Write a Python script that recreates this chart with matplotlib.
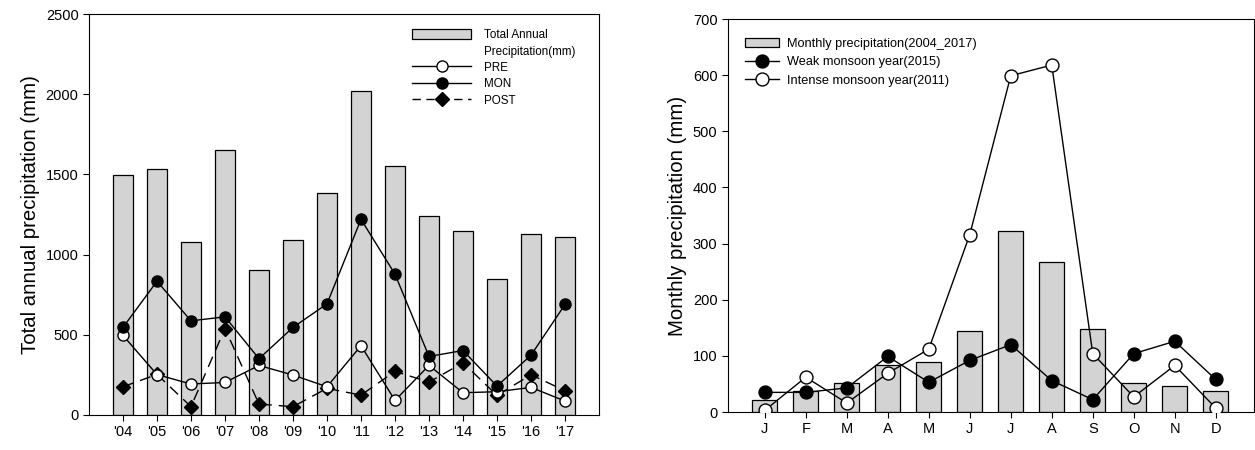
import numpy as np
import matplotlib.pyplot as plt
from matplotlib.lines import Line2D
from matplotlib.patches import Patch

plt.rcParams['font.family'] = ['Liberation Sans', 'DejaVu Sans']

# годовые данные
years = ["'04", "'05", "'06", "'07", "'08", "'09", "'10", "'11", "'12", "'13", "'14", "'15", "'16", "'17"]
total_annual = [1498, 1531, 1079, 1653, 902, 1093, 1382, 2019, 1550, 1239, 1145, 846, 1131, 1112]
pre = [496, 252, 193, 203, 309, 249, 176, 432, 91, 309, 139, 145, 172, 87]
mon = [546, 834, 587, 612, 351, 546, 693, 1220, 878, 365, 402, 180, 373, 689]
post = [176, 253, 52, 539, 68, 52, 166, 124, 272, 205, 326, 122, 251, 151]

# месячные данные
months = ['J', 'F', 'M', 'A', 'M', 'J', 'J', 'A', 'S', 'O', 'N', 'D']
monthly_mean = [21, 37, 52, 83, 89, 144, 322, 267, 147, 52, 47, 37]
weak_2015 = [35, 35, 43, 99, 53, 92, 120, 56, 22, 104, 126, 58]
intense_2011 = [3, 62, 16, 69, 112, 316, 599, 618, 104, 27, 83, 7]

fig = plt.figure(figsize=(12.55, 4.5), dpi=100)
bar_color = '#d3d3d3'

# левый график
ax1 = fig.add_axes([0.0709, 0.0778, 0.4064, 0.891])
x1 = np.arange(len(years))
ax1.bar(x1, total_annual, width=0.6, color=bar_color, edgecolor='black', linewidth=0.9, zorder=1)
ax1.plot(x1, pre, '-o', color='black', mfc='white', mec='black', ms=8, lw=1, zorder=3)
ax1.plot(x1, mon, '-o', color='black', mfc='black', ms=8, lw=1, zorder=4)
ax1.plot(x1, post, '--D', color='black', mfc='black', ms=7, lw=1, dashes=(8, 5), zorder=2)
ax1.set_xlim(-1, 14)
ax1.set_ylim(0, 2500)
ax1.set_xticks(x1)
ax1.set_xticklabels(years)
ax1.set_yticks(range(0, 2501, 500))
ax1.tick_params(labelsize=10.5, direction='out', length=4)
ax1.set_ylabel('Total annual precipitation (mm)', fontsize=14.7)

# вторая строка подписи столбцов - пустой маркер
h1 = [Patch(facecolor=bar_color, edgecolor='black', linewidth=0.9),
      Line2D([], [], alpha=0),
      Line2D([], [], color='black', marker='o', mfc='white', ms=8, lw=1),
      Line2D([], [], color='black', marker='o', mfc='black', ms=8, lw=1),
      Line2D([], [], color='black', marker='D', mfc='black', ms=7, lw=1, ls='--', dashes=(6, 4))]
ax1.legend(h1, ['Total Annual', 'Precipitation(mm)', 'PRE', 'MON', 'POST'],
           loc='upper left', bbox_to_anchor=(0.633, 0.962), frameon=False, fontsize=8.4,
           borderpad=0, borderaxespad=0,
           handlelength=5.1, handleheight=0.9, labelspacing=0.37, handletextpad=1.1)

# правый график
ax2 = fig.add_axes([0.580, 0.0844, 0.4191, 0.8733])
x2 = np.arange(len(months))
ax2.bar(x2, monthly_mean, width=0.6, color=bar_color, edgecolor='black', linewidth=0.9, zorder=1)
ax2.plot(x2, weak_2015, '-o', color='black', mfc='black', ms=9.3, lw=1, zorder=3)
ax2.plot(x2, intense_2011, '-o', color='black', mfc='white', mec='black', ms=9.3, lw=1, zorder=4)
ax2.set_xlim(-0.9, 11.93)
ax2.set_ylim(0, 700)
ax2.set_xticks(x2)
ax2.set_xticklabels(months)
ax2.set_yticks(range(0, 701, 100))
ax2.tick_params(labelsize=10.5, direction='out', length=4)
ax2.set_ylabel('Monthly precipitation (mm)', fontsize=14.7)

h2 = [Patch(facecolor=bar_color, edgecolor='black', linewidth=0.9),
      Line2D([], [], color='black', marker='o', mfc='black', ms=9.3, lw=1),
      Line2D([], [], color='black', marker='o', mfc='white', ms=9.3, lw=1)]
ax2.legend(h2, ['Monthly precipitation(2004_2017)', 'Weak monsoon year(2015)', 'Intense monsoon year(2011)'],
           loc='upper left', bbox_to_anchor=(0.032, 0.952), frameon=False, fontsize=9.2,
           borderpad=0, borderaxespad=0,
           handlelength=2.7, labelspacing=0.5, handletextpad=0.6)

plt.savefig('out.png', dpi=100)
